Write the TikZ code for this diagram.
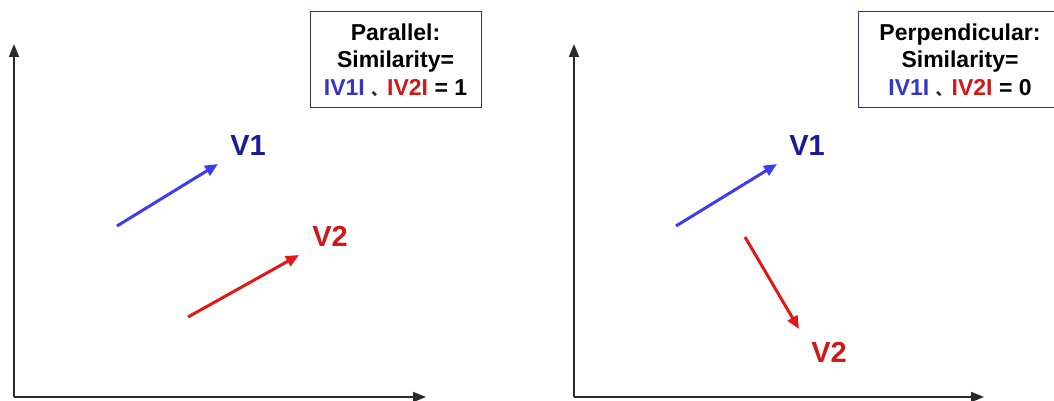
\documentclass[tikz,border=0pt]{standalone}
\usepackage{fontspec}
\setmainfont{Liberation Sans}
\newfontfamily\cjk{Noto Sans CJK SC}
\usepackage{xcolor}
\usepackage{tikz}
\usetikzlibrary{arrows.meta}
\definecolor{vblue}{HTML}{3C3CF0}
\definecolor{vred}{HTML}{E01818}
\definecolor{lblue}{HTML}{1A1A9A}
\definecolor{lred}{HTML}{D01818}
\definecolor{fblue}{HTML}{3535C8}
\definecolor{boxline}{HTML}{2E2E7A}
\definecolor{axgrey}{HTML}{2A2A2A}
\newcommand{\absv}[2]{\textcolor{#1}{I#2I}}
\newcommand{\simline}[1]{\absv{fblue}{V1}\ {\cjk\fontsize{16}{16}\selectfont\color{axgrey}、}\absv{lred}{V2} = #1}

\begin{document}
\begin{tikzpicture}[x=1pt, y=-1pt, font=\bfseries\fontsize{23}{27.5}\selectfont,
  axis/.style={-{Triangle[length=13pt,width=10pt]}, line width=1.6pt, draw=axgrey},
  vec/.style={-{Triangle[length=13pt,width=11pt]}, line width=3pt},
  lbl/.style={font=\bfseries\fontsize{29}{30}\selectfont, inner sep=0pt},
  note/.style={draw=boxline, line width=1pt, fill=white, align=center, inner sep=2pt,
    minimum height=96pt}]
  \useasboundingbox (0,0) rectangle (1054,401);
  % axes
  \coordinate (o1) at (14,397);  \coordinate (y1) at (14,44);  \coordinate (x1) at (426,397);
  \coordinate (o2) at (574,397); \coordinate (y2) at (574,44); \coordinate (x2) at (984,397);
  \foreach \a/\b in {o1/y1,o1/x1,o2/y2,o2/x2} \draw[axis] (\a)--(\b);
  % parallel
  \coordinate (p1s) at (117,226); \coordinate (p1e) at (218,164);
  \coordinate (p2s) at (188,317); \coordinate (p2e) at (299,255);
  \draw[vec, vblue] (p1s)--(p1e);
  \draw[vec, vred] (p2s)--(p2e);
  \node[lbl, text=lblue] (pv1) at (248,146) {V1};
  \node[lbl, text=lred]  (pv2) at (330,236) {V2};
  \node[note, minimum width=171pt] (pbox) at (395.5,60)
    {Parallel:\\Similarity=\\\simline{1}};
  % perpendicular
  \coordinate (q1s) at (676,226); \coordinate (q1e) at (777,164);
  \coordinate (q2s) at (745,237); \coordinate (q2e) at (799,329);
  \draw[vec, vblue] (q1s)--(q1e);
  \draw[vec, vred] (q2s)--(q2e);
  \node[lbl, text=lblue] (qv1) at (807,146) {V1};
  \node[lbl, text=lred]  (qv2) at (829,352) {V2};
  \node[note, minimum width=204pt] (qbox) at (960,60)
    {Perpendicular:\\Similarity=\\\simline{0}};
\end{tikzpicture}
\end{document}
